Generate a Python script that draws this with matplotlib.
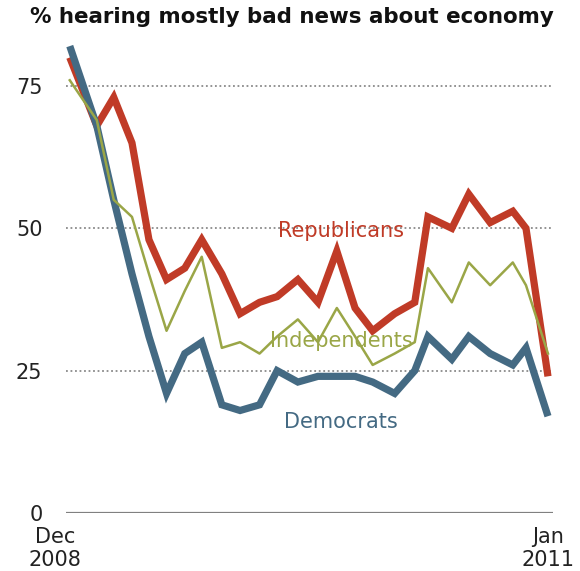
import matplotlib
matplotlib.use("Agg")
import matplotlib.pyplot as plt
import matplotlib.transforms as mtransforms
import pandas as pd

# -----------------------------------------------------------------------------
# Data
# -----------------------------------------------------------------------------
dates = pd.to_datetime([
    "2008-12-05", "2009-01-17", "2009-02-13", "2009-03-14", "2009-04-10",
    "2009-05-08", "2009-06-06", "2009-07-03", "2009-08-04", "2009-09-02",
    "2009-10-03", "2009-10-31", "2009-12-03", "2010-01-04", "2010-02-03",
    "2010-03-04", "2010-04-01", "2010-05-06", "2010-06-07", "2010-06-28",
    "2010-08-05", "2010-09-01", "2010-10-05", "2010-11-10", "2010-12-01",
    "2011-01-05",
])
republicans = [80, 68, 73, 65, 48, 41, 43, 48, 42, 35, 37, 38, 41, 37, 46,
               36, 32, 35, 37, 52, 50, 56, 51, 53, 50, 24]
independents = [76, 69, 55, 52, 42, 32, 39, 45, 29, 30, 28, 31, 34, 30, 36,
                31, 26, 28, 30, 43, 37, 44, 40, 44, 40, 28]
democrats = [82, 68, 55, 42, 31, 21, 28, 30, 19, 18, 19, 25, 23, 24, 24,
             24, 23, 21, 25, 31, 27, 31, 28, 26, 29, 17]

y_ticks = [0, 25, 50, 75]
x_labels = ["Dec\n2008", "Jan\n2011"]
title = "% hearing mostly bad news about economy"

RED = "#C03B27"
BLUE = "#446A83"
GREEN = "#9AA647"

# -----------------------------------------------------------------------------
# Plot
# -----------------------------------------------------------------------------
fig = plt.figure(figsize=(5.8, 5.71), dpi=100)
ax = fig.add_axes([66 / 580, 1 - 513 / 571, 487 / 580, 484 / 571])

ax.plot(dates, republicans, color=RED, lw=5.2, solid_joinstyle="miter",
        solid_capstyle="butt", zorder=3)
ax.plot(dates, democrats, color=BLUE, lw=5.2, solid_joinstyle="miter",
        solid_capstyle="butt", zorder=4)
ax.plot(dates, independents, color=GREEN, lw=1.8, zorder=5)

ax.set_ylim(0, 85)
ax.set_xlim(dates[0] - pd.Timedelta(days=6), dates[-1] + pd.Timedelta(days=8))

for v in y_ticks[1:]:
    ax.axhline(v, color="#8a8a8a", lw=1.3, ls=(0, (1, 1.5)), zorder=1)
ax.axhline(0, color="#808080", lw=1.6, zorder=1)

for s in ax.spines.values():
    s.set_visible(False)

ax.set_yticks(y_ticks)
ax.set_yticklabels([str(v) for v in y_ticks])
ax.tick_params(axis="y", length=0, pad=17, labelsize=15, labelcolor="#222222")

ax.set_xticks([dates[0], dates[-1]])
ax.set_xticklabels(x_labels)
ax.tick_params(axis="x", length=0, pad=10, labelsize=15, labelcolor="#222222")
first = ax.get_xticklabels()[0]
first.set_transform(first.get_transform() +
                    mtransforms.ScaledTranslation(-15 / 100, 0, fig.dpi_scale_trans))

# series labels
lab_x = pd.Timestamp("2010-02-10")
ax.text(lab_x, 49.6, "Republicans", color=RED, fontsize=15,
        ha="center", va="center")
ax.text(lab_x, 30.2, "Independents", color=GREEN, fontsize=15,
        ha="center", va="center")
ax.text(lab_x, 16.0, "Democrats", color=BLUE, fontsize=15,
        ha="center", va="center")

fig.text(30 / 580, 1 - 7 / 571, title, fontsize=15.4, fontweight="bold",
         ha="left", va="top", color="#111111")

plt.savefig("out.png", dpi=100)
plt.close()
